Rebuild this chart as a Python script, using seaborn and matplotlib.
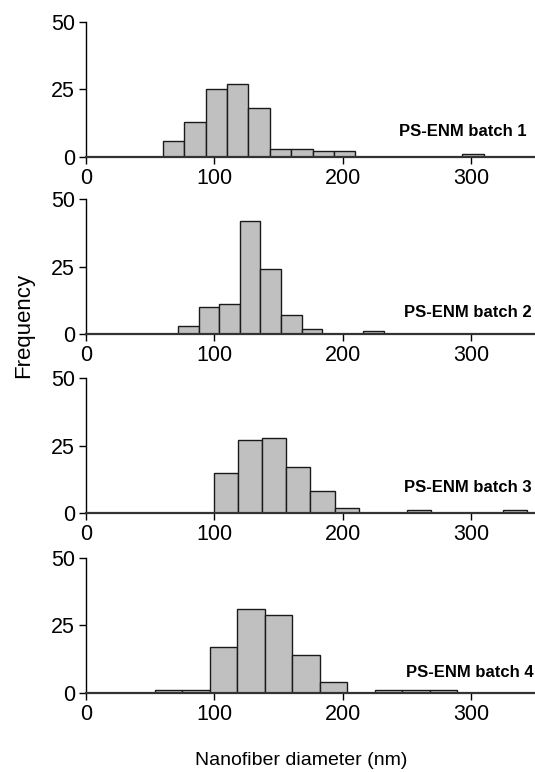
import numpy as np
import pandas as pd
import matplotlib
matplotlib.use("Agg")
import matplotlib.pyplot as plt
import seaborn as sns

## Histogram counts (one list per batch)
batch_names = ["PS-ENM batch 1", "PS-ENM batch 2", "PS-ENM batch 3", "PS-ENM batch 4"]

batch1_counts = [6, 13, 25, 27, 18, 3, 3, 2, 2, 0, 0, 0, 0, 0, 1]
batch2_counts = [3, 10, 11, 42, 24, 7, 2, 0, 0, 1]
batch3_counts = [15, 27, 28, 17, 8, 2, 0, 0, 1, 0, 0, 0, 1]
batch4_counts = [1, 1, 17, 31, 29, 14, 4, 0, 1, 1, 1]

## first bin edge and bin width (nm) for every batch
bin_starts = [60, 72, 100, 53.5]
bin_widths = [50 / 3, 16, 18.75, 21.45]

x_ticks = [0, 100, 200, 300]
y_ticks = [0, 25, 50]

all_counts = [batch1_counts, batch2_counts, batch3_counts, batch4_counts]

sns.set_style("ticks", {"text.color": "black", "xtick.color": "black",
                        "ytick.color": "black", "axes.edgecolor": "black",
                        "axes.labelcolor": "black"})
plt.rcParams["font.family"] = ["Liberation Sans", "DejaVu Sans"]

fig = plt.figure(figsize=(5.35, 7.72), dpi=100)

bottoms = [0.797, 0.5674, 0.3355, 0.1027]
ax_h = 0.1745
ax_left = 0.1607
ax_w = 1.0 - ax_left

# where the batch label sits in each panel (axes fraction)
label_x = [0.982, 0.993, 0.993, 0.996]
label_y = [0.154, 0.128, 0.158, 0.119]

for i, counts in enumerate(all_counts):
    ax = fig.add_axes([ax_left, bottoms[i], ax_w, ax_h])
    n = len(counts)
    edges = bin_starts[i] + bin_widths[i] * np.arange(n + 1)
    centers = (edges[:-1] + edges[1:]) / 2
    df = pd.DataFrame({"diameter": centers, "count": counts})
    sns.histplot(data=df, x="diameter", weights="count", bins=edges.tolist(),
                 color="#c0c0c0", edgecolor="#1a1a1a", linewidth=1.0,
                 alpha=1.0, ax=ax)
    ax.set_xlim(0, 350)
    ax.set_ylim(0, 50)
    ax.set_xticks(x_ticks)
    ax.set_yticks(y_ticks)
    ax.tick_params(labelsize=15.5, length=5, width=1, color="black",
                   labelcolor="black", pad=3)
    ax.set_xlabel("")
    ax.set_ylabel("")
    ax.spines["top"].set_visible(False)
    ax.spines["right"].set_visible(False)
    ax.spines["left"].set_linewidth(1)
    ax.spines["bottom"].set_linewidth(1.6)
    ax.spines["bottom"].set_color("#333333")
    ax.patch.set_alpha(0)
    ax.text(label_x[i], label_y[i], batch_names[i], transform=ax.transAxes,
            ha="right", va="baseline", fontsize=12, fontweight="bold",
            color="black")

fig.text(0.0437, 0.578, "Frequency", rotation=90, ha="center", va="center",
         fontsize=16, color="black")
fig.text(0.563, 0.0155, "Nanofiber diameter (nm)", ha="center", va="center",
         fontsize=14, color="black")

fig.savefig("out.png", dpi=100)
